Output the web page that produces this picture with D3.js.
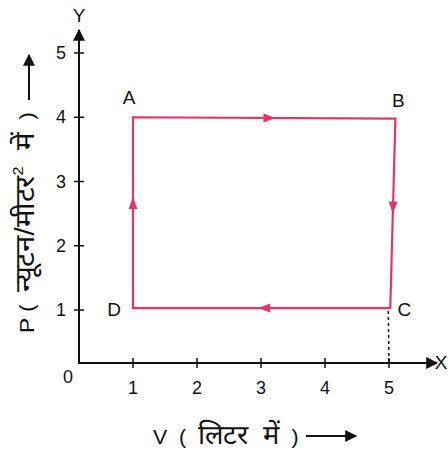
<!DOCTYPE html>
<html>
<head>
<meta charset="utf-8">
<script src="https://cdn.jsdelivr.net/npm/d3@7"></script>
<style>
  body { margin: 0; background: #fff; }
  text { font-family: "Liberation Sans", Arial, sans-serif; fill: #111; }
</style>
</head>
<body>
<div id="chart"></div>
<script>
// cycle corners (hand drawn, so not perfectly square)
const pointNames = ["A", "B", "C", "D"];
const volumes = [1, 5.1, 5.02, 1];
const pressures = [4, 3.98, 1.03, 1.03];
const xTicks = [1, 2, 3, 4, 5];
const yTicks = [1, 2, 3, 4, 5];
// title pieces: [text, kind]
const xTitleParts = [["V  (  ", "latin"], ["लिटर  में", "deva"], ["  )", "latin"]];
const yTitleParts = [["P (  ", "latin"], ["न्यूटन/मीटर", "deva"], ["2", "sup"], ["  में", "deva"], ["  )", "latin"]];

const width = 448, height = 454;
const lineColor = "#e8336a";

const x = d3.scaleLinear().domain([1, 5]).range([133, 389]);
const y = d3.scaleLinear().domain([1, 5]).range([310, 53]);

// axes of the sketch do not meet exactly at zero
const axisX = 79, axisY = 363;

const svg = d3.select("#chart").append("svg")
    .attr("width", width)
    .attr("height", height);

const defs = svg.append("defs");
defs.append("marker")
    .attr("id", "axisHead")
    .attr("viewBox", "0 0 10 10")
    .attr("refX", 9).attr("refY", 5)
    .attr("markerWidth", 14).attr("markerHeight", 12)
    .attr("markerUnits", "userSpaceOnUse")
    .attr("orient", "auto")
    .append("path").attr("d", "M0,0L10,5L0,10Z").attr("fill", "#111");

// axis lines
svg.append("line")
    .attr("x1", axisX).attr("y1", axisY)
    .attr("x2", 437).attr("y2", axisY)
    .attr("stroke", "#111").attr("stroke-width", 2)
    .attr("marker-end", "url(#axisHead)");
svg.append("line")
    .attr("x1", axisX).attr("y1", axisY + 1)
    .attr("x2", axisX).attr("y2", 30)
    .attr("stroke", "#111").attr("stroke-width", 2)
    .attr("marker-end", "url(#axisHead)");

// ticks
svg.append("g").selectAll("line").data(xTicks).join("line")
    .attr("x1", d => x(d)).attr("x2", d => x(d))
    .attr("y1", axisY - 5).attr("y2", axisY + 5)
    .attr("stroke", "#111").attr("stroke-width", 1.5);
svg.append("g").selectAll("text").data(xTicks).join("text")
    .attr("x", d => x(d)).attr("y", 394)
    .attr("text-anchor", "middle")
    .attr("font-size", 18)
    .text(d => d);

svg.append("g").selectAll("line").data(yTicks).join("line")
    .attr("x1", axisX - 5).attr("x2", axisX + 5)
    .attr("y1", d => y(d)).attr("y2", d => y(d))
    .attr("stroke", "#111").attr("stroke-width", 1.5);
svg.append("g").selectAll("text").data(yTicks).join("text")
    .attr("x", 66).attr("y", d => y(d) + 6)
    .attr("text-anchor", "end")
    .attr("font-size", 18)
    .text(d => d);

svg.append("text").attr("x", 68).attr("y", 383)
    .attr("text-anchor", "middle").attr("font-size", 18).text("0");
svg.append("text").attr("x", 441).attr("y", 369)
    .attr("text-anchor", "middle").attr("font-size", 19).text("X");
svg.append("text").attr("x", axisX).attr("y", 22)
    .attr("text-anchor", "middle").attr("font-size", 19).text("Y");

// dotted drop line from C
svg.append("line")
    .attr("x1", x(volumes[2]) - 2).attr("y1", y(pressures[2]) + 3)
    .attr("x2", x(5)).attr("y2", axisY)
    .attr("stroke", "#111").attr("stroke-width", 1.5)
    .attr("stroke-dasharray", "3,3");

// cycle
const pts = pointNames.map((n, i) => ({ name: n, v: volumes[i], p: pressures[i] }));
svg.append("path")
    .attr("d", d3.line().x(d => x(d.v)).y(d => y(d.p))(pts) + "Z")
    .attr("fill", "none")
    .attr("stroke", lineColor)
    .attr("stroke-width", 2.2)
    .attr("stroke-linejoin", "miter");

// direction arrows along each side
const arrowAt = [0.52, 0.47, 0.49, 0.55];
pts.forEach((a, i) => {
    const b = pts[(i + 1) % pts.length];
    const t = arrowAt[i];
    const px = x(a.v) + (x(b.v) - x(a.v)) * t;
    const py = y(a.p) + (y(b.p) - y(a.p)) * t;
    const ang = Math.atan2(y(b.p) - y(a.p), x(b.v) - x(a.v)) * 180 / Math.PI;
    svg.append("path")
        .attr("d", "M6,0L-6,-4.5L-6,4.5Z")
        .attr("fill", lineColor)
        .attr("transform", `translate(${px},${py}) rotate(${ang})`);
});

// corner labels
const labelOffset = { A: [-4, -13], B: [3, -12], C: [14, 8], D: [-19, 8] };
svg.append("g").selectAll("text").data(pts).join("text")
    .attr("x", d => x(d.v) + labelOffset[d.name][0])
    .attr("y", d => y(d.p) + labelOffset[d.name][1])
    .attr("text-anchor", "middle")
    .attr("font-size", 19)
    .text(d => d.name);

// axis titles; Devanagari fallback font is small, so give it a bigger size
function titleText(sel, parts) {
    let prevSup = false;
    parts.forEach(([s, kind]) => {
        const t = sel.append("tspan").text(s);
        if (kind === "deva") t.attr("font-size", 27);
        else if (kind === "sup") t.attr("font-size", 15).attr("dy", -11);
        else t.attr("font-size", 21);
        if (prevSup) t.attr("dy", 11);
        prevSup = kind === "sup";
    });
    return sel;
}

// squeeze/stretch a title to the length it has in the sketch
const xt = svg.append("text").style("white-space", "pre");
titleText(xt, xTitleParts);
const xw = xt.node().getComputedTextLength();
xt.attr("transform", `translate(153,444) scale(${146 / xw},1)`);

svg.append("line")
    .attr("x1", 306).attr("y1", 436).attr("x2", 356).attr("y2", 436)
    .attr("stroke", "#111").attr("stroke-width", 2)
    .attr("marker-end", "url(#axisHead)");

const yt = svg.append("text").style("white-space", "pre");
titleText(yt, yTitleParts);
const yw = yt.node().getComputedTextLength();
yt.attr("transform", `translate(34,333) rotate(-90) scale(${222 / yw},1)`);

svg.append("line")
    .attr("x1", 29).attr("y1", 100).attr("x2", 29).attr("y2", 55)
    .attr("stroke", "#111").attr("stroke-width", 2)
    .attr("marker-end", "url(#axisHead)");
</script>
</body>
</html>
